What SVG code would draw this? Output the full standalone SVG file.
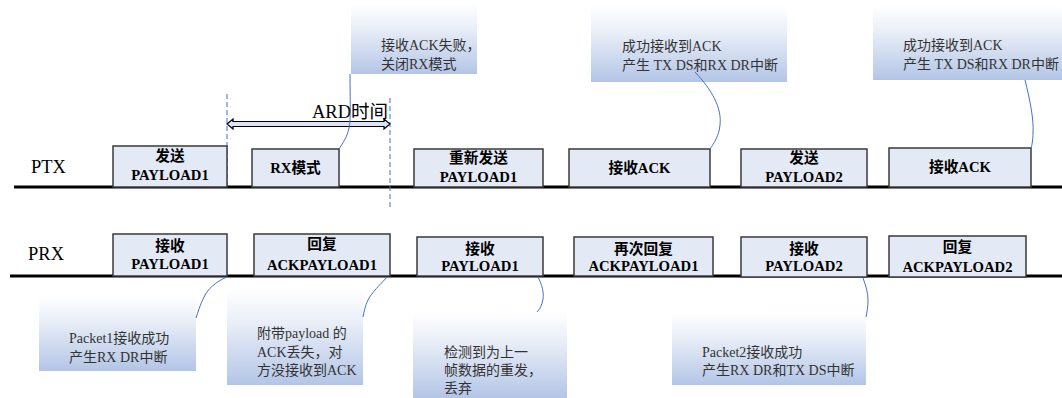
<svg xmlns="http://www.w3.org/2000/svg" width="1062" height="398" viewBox="0 0 1062 398">
<defs>
<linearGradient id="g" x1="0" y1="0" x2="0" y2="1">
<stop offset="0" stop-color="#ffffff"/>
<stop offset="0.35" stop-color="#e9eef7"/>
<stop offset="1" stop-color="#b3c5e6"/>
</linearGradient>
</defs>
<style>
.lane{stroke:#000;stroke-width:3;fill:none}
.box{fill:#e4eaf5;stroke:#3a3a3a;stroke-width:1.5}
.bt{font-family:"Liberation Serif","Noto Sans CJK SC",serif;font-weight:bold;font-size:14.7px;fill:#000;text-anchor:middle}
.lbl{font-family:"Liberation Serif","Noto Sans CJK SC",serif;font-size:18.5px;fill:#000}
.note{fill:url(#g)}
.nt{font-family:"Liberation Serif","Noto Sans CJK SC",serif;font-size:14px;fill:#333}
.con{stroke:#4472c4;stroke-width:1;fill:none}
.dash{stroke:#4472c4;stroke-width:1;stroke-dasharray:5,3;fill:none}
</style>

<g id="lanes">
<line class="lane" x1="14" y1="187" x2="1062" y2="187"/>
<line class="lane" x1="10" y1="276" x2="1062" y2="276"/>
<text class="lbl" x="31" y="173">PTX</text>
<text class="lbl" x="28" y="260">PRX</text>
</g>

<g id="ard">
<line class="dash" x1="227" y1="94" x2="227" y2="187"/>
<line class="dash" x1="390" y1="98" x2="390" y2="208"/>
<path d="M227,124 L233,119 L233,121.5 L384,121.5 L384,119 L390,124 L384,129 L384,126.5 L233,126.5 L233,129 Z" fill="#dbe4f3" stroke="#000" stroke-width="1.2"/>
<text class="lbl" x="312" y="118">ARD时间</text>
</g>

<g id="ptx1"><rect class="box" x="113" y="146" width="114" height="41"/><text class="bt" x="170" y="161">发送</text><text class="bt" x="170" y="180">PAYLOAD1</text></g>
<g id="ptx2"><rect class="box" x="252" y="149" width="87" height="38"/><text class="bt" x="295.5" y="173">RX模式</text></g>
<g id="ptx3"><rect class="box" x="414" y="149" width="129" height="38"/><text class="bt" x="478.5" y="163">重新发送</text><text class="bt" x="478.5" y="182">PAYLOAD1</text></g>
<g id="ptx4"><rect class="box" x="569" y="149" width="141" height="38"/><text class="bt" x="639.5" y="173">接收ACK</text></g>
<g id="ptx5"><rect class="box" x="741" y="149" width="126" height="38"/><text class="bt" x="804" y="163">发送</text><text class="bt" x="804" y="182">PAYLOAD2</text></g>
<g id="ptx6"><rect class="box" x="889" y="148" width="142" height="39"/><text class="bt" x="960" y="172">接收ACK</text></g>

<g id="prx1"><rect class="box" x="113" y="234" width="114" height="42"/><text class="bt" x="170" y="251">接收</text><text class="bt" x="170" y="269">PAYLOAD1</text></g>
<g id="prx2"><rect class="box" x="254" y="234" width="136" height="42"/><text class="bt" x="322" y="249">回复</text><text class="bt" x="322" y="270">ACKPAYLOAD1</text></g>
<g id="prx3"><rect class="box" x="417" y="237" width="126" height="39"/><text class="bt" x="480" y="254">接收</text><text class="bt" x="480" y="271">PAYLOAD1</text></g>
<g id="prx4"><rect class="box" x="574" y="237" width="139" height="39"/><text class="bt" x="643.5" y="254">再次回复</text><text class="bt" x="643.5" y="271">ACKPAYLOAD1</text></g>
<g id="prx5"><rect class="box" x="741" y="237" width="126" height="40"/><text class="bt" x="804" y="254">接收</text><text class="bt" x="804" y="271">PAYLOAD2</text></g>
<g id="prx6"><rect class="box" x="889" y="236" width="137" height="41"/><text class="bt" x="957.5" y="252">回复</text><text class="bt" x="957.5" y="272">ACKPAYLOAD2</text></g>

<g id="note1"><rect class="note" x="351" y="4" width="126" height="70"/><text class="nt" x="381" y="50">接收ACK失败，</text><text class="nt" x="381" y="69">关闭RX模式</text></g>
<g id="note2"><rect class="note" x="591" y="6" width="196" height="76"/><text class="nt" x="622" y="51">成功接收到ACK</text><text class="nt" x="622" y="70">产生 TX DS和RX DR中断</text></g>
<g id="note3"><rect class="note" x="873" y="6" width="189" height="74"/><text class="nt" x="903" y="50">成功接收到ACK</text><text class="nt" x="903" y="69">产生 TX DS和RX DR中断</text></g>
<g id="note4"><rect class="note" x="39" y="295" width="157" height="76"/><text class="nt" x="69" y="343">Packet1接收成功</text><text class="nt" x="69" y="362">产生RX DR中断</text></g>
<g id="note5"><rect class="note" x="227" y="290" width="136" height="95"/><text class="nt" x="257" y="338">附带payload 的</text><text class="nt" x="257" y="357">ACK丢失，对</text><text class="nt" x="257" y="375">方没接收到ACK</text></g>
<g id="note6"><rect class="note" x="413" y="312" width="154" height="86"/><text class="nt" x="444" y="357">检测到为上一</text><text class="nt" x="444" y="375">帧数据的重发，</text><text class="nt" x="444" y="393">丢弃</text></g>
<g id="note7"><rect class="note" x="672" y="313" width="194" height="72"/><text class="nt" x="702" y="357">Packet2接收成功</text><text class="nt" x="702" y="375">产生RX DR和TX DS中断</text></g>

<g id="connectors">
<path class="con" d="M350,74 C350,100 351,120 349,128 C347,138 342,144 339,149"/>
<path class="con" d="M695,72 C712,90 722,108 720,125 C719,136 714,143 710,149"/>
<path class="con" d="M1025,80 C1030,100 1034,120 1033,133 C1033,140 1032,145 1031,148"/>
<path class="con" d="M227,277 C215,282 208,289 204,297 C200,305 198,312 196,318"/>
<path class="con" d="M387,277 C380,285 372,292 368,300 C365,306 364,312 363,317"/>
<path class="con" d="M538,277 C542,285 544,292 543,299 C542,305 540,309 537,312"/>
<path class="con" d="M863,278 C866,286 868,293 868,300 C868,307 867,312 866,317"/>
</g>
</svg>
